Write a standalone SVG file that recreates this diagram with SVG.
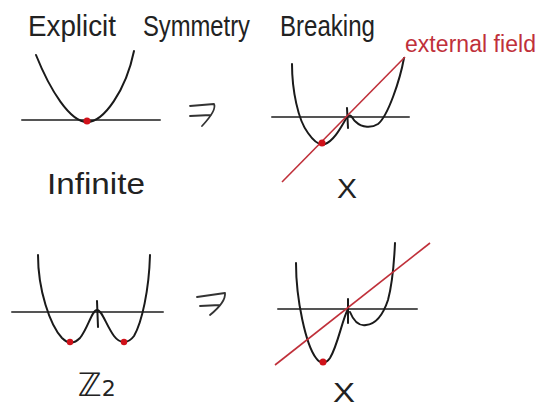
<svg xmlns="http://www.w3.org/2000/svg" width="539" height="408" viewBox="0 0 539 408">
<style>
.hand{font-family:"Liberation Sans","DejaVu Sans",sans-serif;fill:#222;}
.axis{stroke:#555;stroke-width:2;fill:none;stroke-linecap:round;}
.curve{stroke:#1a1a1a;stroke-width:2;fill:none;stroke-linecap:round;stroke-linejoin:round;}
.field{stroke:#c0303a;stroke-width:1.6;fill:none;}
.dot{fill:#d0121a;}
.arrow{stroke:#333;stroke-width:1.8;fill:none;stroke-linecap:round;stroke-linejoin:round;}
</style>
<rect width="539" height="408" fill="#ffffff"/>
<g id="title">
<text class="hand" x="28" y="36" font-size="29" textLength="88" lengthAdjust="spacingAndGlyphs">Explicit</text>
<text class="hand" x="143" y="36" font-size="29" textLength="107" lengthAdjust="spacingAndGlyphs">Symmetry</text>
<text class="hand" x="280" y="36" font-size="29" textLength="95" lengthAdjust="spacingAndGlyphs">Breaking</text>
</g>
<g id="label-external-field">
<text x="405" y="52" font-size="23" font-family="Liberation Sans, sans-serif" fill="#c0303a" textLength="131" lengthAdjust="spacing">external field</text>
</g>
<g id="infinite-potential">
<line class="axis" x1="22" y1="120" x2="160" y2="120"/>
<path class="curve" d="M36,55 C50,90 70,122 87,122 C104,122 126,90 134,51"/>
<circle class="dot" cx="87" cy="121" r="3.5"/>
<text class="hand" x="47" y="194" font-size="30" textLength="98" lengthAdjust="spacingAndGlyphs">Infinite</text>
</g>
<g id="infinite-broken">
<line class="axis" x1="272" y1="117" x2="409" y2="117"/>
<path class="curve" d="M292,64 C292,90 298,120 308,133 C315,143 320,146 325,144 C335,140 342,125 347,117 C352,112 352,120 356,122 C362,128 372,128 378,124 C388,116 400,80 404,58"/>
<path class="curve" d="M347,108 L348,128"/>
<line class="field" x1="282" y1="182" x2="405" y2="57"/>
<circle class="dot" cx="322" cy="143" r="3.5"/>
<text class="hand" x="337" y="198" font-size="27" textLength="20" lengthAdjust="spacingAndGlyphs">X</text>
</g>
<g id="z2-potential">
<line class="axis" x1="12" y1="312" x2="163" y2="312"/>
<path class="curve" d="M38,255 C38,290 50,325 62,338 C68,344 74,344 80,338 C88,328 92,310 97,310 C102,310 106,325 114,336 C120,344 128,344 134,336 C142,322 149,290 150,255"/>
<path class="curve" d="M97,301 L98,327"/>
<circle class="dot" cx="70" cy="342" r="3.2"/>
<circle class="dot" cx="124" cy="342" r="3.2"/>
<text x="78" y="396" font-size="32" font-family="DejaVu Sans, sans-serif" fill="#222">ℤ<tspan font-size="22">2</tspan></text>
</g>
<g id="z2-broken">
<line class="axis" x1="278" y1="309" x2="417" y2="309"/>
<path class="curve" d="M296,263 C296,300 306,345 316,358 C320,364 326,364 330,358 C338,345 342,320 348,309"/>
<path class="curve" d="M348,299 L348,323"/>
<path class="curve" d="M350,312 C354,322 360,326 366,325 C378,324 384,312 388,300 C392,285 394,265 395,243"/>
<line class="field" x1="275" y1="365" x2="430" y2="243"/>
<circle class="dot" cx="323" cy="362" r="3.5"/>
<text class="hand" x="333" y="402" font-size="27" textLength="22" lengthAdjust="spacingAndGlyphs">X</text>
</g>
<g id="connectors">
<path class="arrow" d="M190,106 L214,104 Q217,110 202,126 M190,116 L211,115"/>
<path class="arrow" d="M197,297 L225,293 Q226,302 210,315 M200,306 L220,305"/>
</g>
</svg>
